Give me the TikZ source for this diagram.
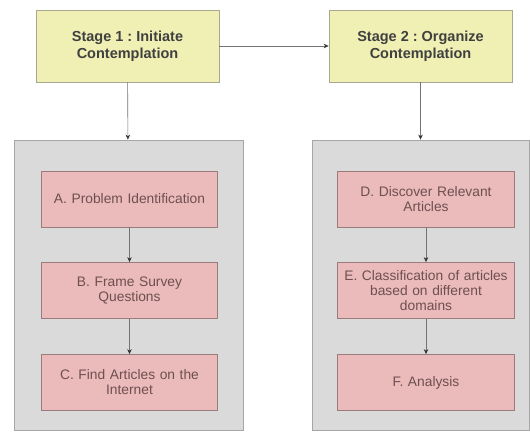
\documentclass[tikz,border=0pt]{standalone}
\usepackage{fontspec}
\setmainfont{Liberation Sans}
\usepackage{tikz}
\usetikzlibrary{arrows.meta}
\frenchspacing

\definecolor{stagefill}{HTML}{F0F0B4}
\definecolor{stageline}{HTML}{A8A890}
\definecolor{stepfill}{HTML}{EBBABA}
\definecolor{stepline}{HTML}{9A7C7C}
\definecolor{panelfill}{HTML}{DADADA}
\definecolor{panelline}{HTML}{A6A6A6}
\definecolor{steptext}{HTML}{6E5050}

\tikzset{
  stagebox/.style={draw=stageline, fill=stagefill, line width=0.8pt, minimum width=183pt, minimum height=72pt,
    align=center, text=black!75, font=\fontsize{14.5}{17}\selectfont\bfseries},
  stepbox/.style={draw=stepline, fill=stepfill, line width=0.8pt, minimum width=174pt, minimum height=56pt,
    align=center, text=steptext, text width=170pt, font=\fontsize{13.8}{15}\selectfont},
  panel/.style={draw=panelline, fill=panelfill, line width=0.8pt, minimum height=290pt},
  flow/.style={draw=black!55, line width=0.6pt, -{Stealth[length=5pt,width=4.5pt,black!80]}}
}

\begin{document}
\begin{tikzpicture}[x=1pt,y=-1pt]
\useasboundingbox[fill=white] (0,0) rectangle (530,432);

% stages
\node[stagebox] (stage1) at (127.5,46) {Stage 1 : Initiate\\Contemplation};
\node[stagebox] (stage2) at (420.5,46) {Stage 2 : Organize\\Contemplation};

% panels
\node[panel, minimum width=229pt] (panelA) at (128.5,285) {};
\node[panel, minimum width=217pt] (panelB) at (420.5,285) {};

% left column
\node[stepbox] (stepA) at (129.5,199) {A. Problem Identification};
\node[stepbox] (stepB) at (129.5,290.5) {B. Frame Survey\\Questions};
\node[stepbox] (stepC) at (129.5,382.5) {C. Find Articles on the\\Internet};

% right column
\node[stepbox] (stepD) at (426,199) {D. Discover Relevant\\Articles};
\node[stepbox] (stepE) at (426,290.5) {E. Classification of articles\\based on different\\domains};
\node[stepbox] (stepF) at (426,382.5) {F. Analysis};

\draw[flow] (stage1) -- (stage2);
\draw[flow] (stage1) -- (panelA);
\draw[flow] (stage2) -- (panelB);
\draw[flow] (stepA) -- (stepB);
\draw[flow] (stepB) -- (stepC);
\draw[flow] (stepD) -- (stepE);
\draw[flow] (stepE) -- (stepF);

\end{tikzpicture}
\end{document}
